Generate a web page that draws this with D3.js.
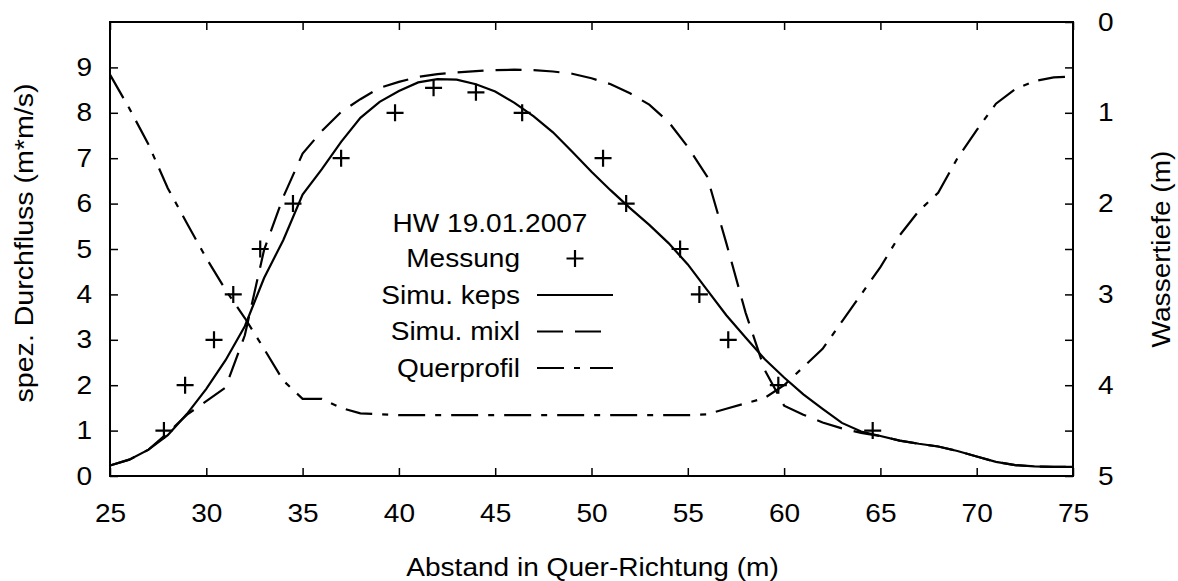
<!DOCTYPE html>
<html>
<head>
<meta charset="utf-8">
<script src="https://cdn.jsdelivr.net/npm/d3@7"></script>
<style>
  body { margin: 0; background: #fff; }
  text { font-family: "Liberation Sans", Arial, sans-serif; fill: #000; }
</style>
</head>
<body>
<svg id="chart" width="1178" height="581"></svg>
<script>
// measurement points
const messX = [27.8, 28.9, 30.4, 31.4, 32.8, 34.5, 37.0, 39.8, 41.8, 44.0, 46.4, 50.6, 51.8, 54.6, 55.6, 57.1, 59.7, 64.6];
const messQ = [1, 2, 3, 4, 5, 6, 7, 8, 8.55, 8.45, 8, 7, 6, 5, 4, 3, 2, 1];

// simulation k-epsilon
const simX = [25, 26, 27, 28, 29, 30, 31, 32, 33, 34, 35, 36, 37, 38, 39, 40, 41, 42, 43, 44, 45, 46, 47, 48, 49, 50,
  51, 52, 53, 54, 55, 56, 57, 58, 59, 60, 61, 62, 63, 64, 65, 66, 67, 68, 69, 70, 71, 72, 73, 74, 75];
const kepsQ = [0.23, 0.36, 0.58, 0.9, 1.37, 1.92, 2.55, 3.3, 4.36, 5.2, 6.2, 6.76, 7.36, 7.89, 8.24, 8.48, 8.67, 8.74, 8.73, 8.63,
  8.47, 8.22, 7.92, 7.57, 7.14, 6.7, 6.29, 5.9, 5.53, 5.13, 4.66, 4.1, 3.54, 3.05, 2.57, 2.17, 1.8, 1.48, 1.17, 0.98,
  0.88, 0.78, 0.71, 0.65, 0.55, 0.43, 0.31, 0.24, 0.21, 0.2, 0.2];
// simulation mixing length
const mixlQ = [0.23, 0.36, 0.58, 0.95, 1.35, 1.65, 1.95, 3.1, 4.98, 6.15, 7.1, 7.6, 8.02, 8.3, 8.55, 8.68, 8.79, 8.85, 8.89, 8.92,
  8.94, 8.95, 8.94, 8.91, 8.86, 8.76, 8.63, 8.43, 8.18, 7.8, 7.25, 6.6, 5.13, 3.6, 2.33, 1.55, 1.35, 1.18, 1.05, 0.95,
  0.88, 0.78, 0.71, 0.65, 0.55, 0.43, 0.31, 0.24, 0.21, 0.2, 0.2];

// cross profile (water depth, right axis)
const profX = [25, 26, 27, 28, 29, 30, 31, 32, 33, 34, 35, 36, 37, 38, 40, 45, 50, 55, 56, 57, 58, 59, 60, 61, 62, 63, 64,
  65, 66, 67, 68, 69, 70, 71, 72, 73, 74, 75];
const profD = [0.58, 0.95, 1.35, 1.83, 2.22, 2.6, 2.95, 3.26, 3.6, 3.95, 4.15, 4.15, 4.25, 4.31, 4.33, 4.33, 4.33, 4.33, 4.32,
  4.26, 4.2, 4.14, 4.0, 3.8, 3.6, 3.3, 3.0, 2.7, 2.35, 2.08, 1.88, 1.5, 1.19, 0.9, 0.74, 0.65, 0.61, 0.6];

const xTicks = [25, 30, 35, 40, 45, 50, 55, 60, 65, 70, 75];
const yTicks = [0, 1, 2, 3, 4, 5, 6, 7, 8, 9];
const y2Ticks = [0, 0.5, 1, 1.5, 2, 2.5, 3, 3.5, 4, 4.5, 5];

const legendLabels = ["Messung", "Simu. keps", "Simu. mixl", "Querprofil"];

const fs = 25.5, sx = 1.1;
const pLeft = 110, pRight = 1073, pTop = 22, pBottom = 476;

var svg = d3.select("#chart");

const x = d3.scaleLinear().domain([25, 75]).range([pLeft, pRight]);
const y = d3.scaleLinear().domain([0, 10]).range([pBottom, pTop]);
const y2 = d3.scaleLinear().domain([0, 5]).range([pTop, pBottom]);

// stretch text along its baseline like the reference
function stretch(sel) {
  sel.each(function () {
    const t = d3.select(this);
    const tx = +t.attr("x") || 0, ty = +t.attr("y") || 0;
    t.attr("x", null).attr("y", null)
      .attr("transform", `translate(${tx},${ty}) scale(${sx},1)`);
  });
}

function styleAxis(g) {
  g.select(".domain").remove();
  g.selectAll("line").attr("stroke", "#000").attr("stroke-width", 1.5);
  g.selectAll("text").attr("font-size", fs).attr("font-family", null).attr("fill", "#000");
  stretch(g.selectAll("text"));
}

svg.append("g")
  .attr("transform", `translate(0,${pBottom})`)
  .call(d3.axisBottom(x).tickValues(xTicks).tickSizeInner(-8).tickSizeOuter(0).tickPadding(27.5))
  .call(styleAxis);

svg.append("g")
  .attr("transform", `translate(0,${pTop})`)
  .call(d3.axisTop(x).tickValues(xTicks).tickSizeInner(-8).tickSizeOuter(0).tickFormat(""))
  .call(styleAxis);

svg.append("g")
  .attr("transform", `translate(${pLeft},0)`)
  .call(d3.axisLeft(y).tickValues(yTicks).tickSizeInner(-8).tickSizeOuter(0).tickPadding(18))
  .call(styleAxis);

svg.append("g")
  .attr("transform", `translate(${pRight},0)`)
  .call(d3.axisRight(y2).tickValues(y2Ticks).tickSizeInner(-8).tickSizeOuter(0).tickPadding(25)
    .tickFormat(d => Number.isInteger(d) ? d : ""))
  .call(styleAxis);

// frame
svg.append("rect")
  .attr("x", pLeft).attr("y", pTop)
  .attr("width", pRight - pLeft).attr("height", pBottom - pTop)
  .attr("fill", "none").attr("stroke", "#000").attr("stroke-width", 2);

// axis titles
svg.append("text")
  .attr("transform", `translate(${(pLeft + pRight) / 2 + 1},576) scale(${sx},1)`)
  .attr("text-anchor", "middle").attr("font-size", fs)
  .text("Abstand in Quer-Richtung (m)");

svg.append("text")
  .attr("transform", `translate(32.5,243) rotate(-90) scale(1.12,1)`)
  .attr("text-anchor", "middle").attr("font-size", fs)
  .text("spez. Durchfluss (m*m/s)");

svg.append("text")
  .attr("transform", `translate(1170,249) rotate(-90) scale(1.1,1)`)
  .attr("text-anchor", "middle").attr("font-size", fs)
  .text("Wassertiefe (m)");

// curves
const lineQ = d3.line().x(d => x(d[0])).y(d => y(d[1]));
const lineD = d3.line().x(d => x(d[0])).y(d => y2(d[1]));

const styles = {
  keps: null,
  mixl: "26,12",
  prof: "27,10,6,10"
};

svg.append("path")
  .datum(d3.zip(profX, profD))
  .attr("d", lineD)
  .attr("fill", "none").attr("stroke", "#000").attr("stroke-width", 2.2)
  .attr("stroke-dasharray", styles.prof);

svg.append("path")
  .datum(d3.zip(simX, mixlQ))
  .attr("d", lineQ)
  .attr("fill", "none").attr("stroke", "#000").attr("stroke-width", 2.2)
  .attr("stroke-dasharray", styles.mixl);

svg.append("path")
  .datum(d3.zip(simX, kepsQ))
  .attr("d", lineQ)
  .attr("fill", "none").attr("stroke", "#000").attr("stroke-width", 2.2);

function plus(g, cx, cy) {
  const s = 8.5;
  g.append("path")
    .attr("d", `M${cx - s},${cy}H${cx + s}M${cx},${cy - s}V${cy + s}`)
    .attr("stroke", "#000").attr("stroke-width", 2.2).attr("fill", "none");
}

const marks = svg.append("g");
d3.zip(messX, messQ).forEach(d => plus(marks, x(d[0]), y(d[1])));

// legend
const leg = svg.append("g");
leg.append("text")
  .attr("transform", `translate(490,223) scale(${sx},1)`)
  .attr("dy", "0.35em").attr("text-anchor", "middle").attr("font-size", fs)
  .text("HW 19.01.2007");

const rowY = [258.5, 295, 331.5, 368];
const sampleX0 = 537, sampleX1 = 613;
legendLabels.forEach((lab, i) => {
  leg.append("text")
    .attr("transform", `translate(520,${rowY[i]}) scale(${sx},1)`)
    .attr("dy", "0.35em").attr("text-anchor", "end").attr("font-size", fs)
    .text(lab);
  if (i === 0) {
    plus(leg, (sampleX0 + sampleX1) / 2, rowY[i]);
  } else {
    const dash = [styles.keps, styles.mixl, styles.prof][i - 1];
    leg.append("line")
      .attr("x1", sampleX0).attr("x2", sampleX1)
      .attr("y1", rowY[i]).attr("y2", rowY[i])
      .attr("stroke", "#000").attr("stroke-width", 2.2)
      .attr("stroke-dasharray", dash);
  }
});
</script>
</body>
</html>
